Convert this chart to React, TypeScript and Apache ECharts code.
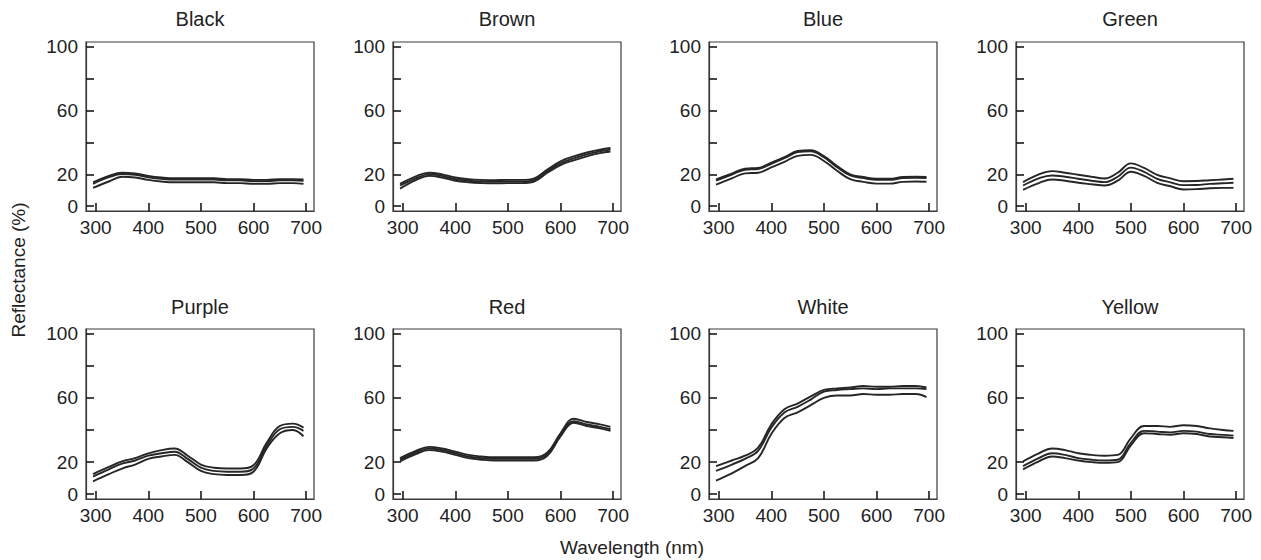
import React, { useEffect, useRef } from "react";
import * as echarts from "echarts";

// Wavelength (nm) sample points
const wavelengths = [295, 325, 350, 375, 400, 425, 450, 475, 500, 525, 550, 575, 600, 625, 650, 675, 695];

const xTicks = [300, 400, 500, 600, 700];
const yTicks = [0, 20, 40, 60, 80, 100];
const yLabels = [0, 20, 60, 100];

// Reflectance (%) — upper / mean / lower curves per colour
const blackUpper = [15, 19, 21, 20.5, 19, 18, 17.5, 17.5, 17.5, 17.5, 17, 17, 16.5, 16.5, 17, 17, 16.8];
const blackMid = [14, 18.2, 20.2, 19.7, 18.2, 17.2, 16.7, 16.7, 16.7, 16.7, 16.2, 16.2, 15.7, 15.7, 16.2, 16.2, 16];
const blackLower = [11.5, 15.5, 18.5, 18, 16.5, 15.5, 15, 15, 15, 15, 14.5, 14.5, 14, 14, 14.5, 14.5, 14];

const brownUpper = [14, 18.7, 21, 20, 18, 17, 16.5, 16.3, 16.5, 16.5, 17.5, 23, 28.2, 31.2, 33.7, 35.5, 36.5];
const brownMid = [13, 17.5, 20, 19, 17, 16, 15.5, 15.3, 15.5, 15.5, 16.5, 22, 27, 30, 32.5, 34.5, 35.5];
const brownLower = [11, 16.3, 19, 18, 16, 15, 14.5, 14.3, 14.5, 14.5, 15.5, 21, 25.8, 28.8, 31.3, 33.3, 34.3];

const blueUpper = [16.8, 20.5, 23.6, 24, 27.3, 30.8, 34.6, 35.2, 31.4, 25.2, 20, 18.3, 17.2, 17.2, 18.3, 18.5, 18.3];
const blueMid = [16.1, 19.8, 22.9, 23.3, 26.6, 30.1, 33.9, 34.5, 30.7, 24.5, 19.3, 17.6, 16.5, 16.5, 17.6, 17.8, 17.6];
const blueLower = [13.6, 17.5, 20.6, 21, 24.3, 27.8, 31.6, 32.2, 28.4, 22.2, 17, 15.3, 14.2, 14.2, 15.3, 15.5, 15.3];

const greenUpper = [15.1, 20, 22, 21, 19.7, 18.5, 17.4, 21, 26.9, 24, 19.7, 17.5, 15.7, 15.8, 16.3, 16.8, 17.2];
const greenMid = [13, 17.5, 19.3, 18.5, 17.2, 16, 15.1, 18.5, 24.2, 21.5, 17.2, 15, 13.2, 13.3, 14, 14.4, 14.7];
const greenLower = [10.3, 14.5, 16.8, 16, 14.7, 13.8, 13, 16, 21.6, 19, 14.7, 12.5, 10.5, 10.7, 11.3, 11.5, 11.5];

const purpleUpper = [12.5, 17, 20.5, 22.5, 25.5, 27.5, 28.5, 24, 18.5, 16.5, 16, 16, 18, 32, 42.5, 44, 41.5];
const purpleMid = [11, 15.5, 19, 21, 24, 25.5, 26.5, 22, 16.5, 14.5, 14, 14, 16, 30, 40.5, 42, 39.5];
const purpleLower = [8, 12.5, 16, 18.5, 22, 23.5, 24.5, 20, 14.5, 12.5, 12, 12, 14, 28.5, 38, 40, 36];

const redUpper = [22.5, 27, 29.5, 28.5, 26.5, 24.5, 23.5, 23, 23, 23, 23, 26, 38, 47, 45, 43.5, 42];
const redMid = [21.5, 26, 28.5, 27.5, 25.5, 23.5, 22.5, 22, 22, 22, 22, 25, 37, 45.5, 43.5, 42, 40.5];
const redLower = [20.5, 25, 27.5, 26.5, 24.5, 22.5, 21.5, 21, 21, 21, 21, 24, 36, 44.5, 42.5, 41, 39.5];

const whiteUpper = [17.5, 21, 24, 29, 43.5, 53, 56.5, 61, 65, 66, 66.5, 67.5, 67, 67, 67.5, 67.5, 66.5];
const whiteMid = [14.5, 18.5, 22, 27, 41.5, 51, 54.5, 59, 64, 65, 65.5, 66, 65.5, 66, 66, 66, 65.5];
const whiteLower = [8.5, 13, 17.5, 22.5, 37.5, 47.5, 51, 55.5, 60, 61.5, 61.5, 62.5, 62, 62, 62.5, 62.5, 60.5];

const yellowUpper = [20.5, 25.5, 28.5, 27.5, 25.5, 24.5, 24, 24.5, 35, 42.5, 42.5, 42, 43, 42.5, 41, 40, 39.5];
const yellowMid = [17.5, 22.5, 25.5, 24.5, 22.5, 21.5, 21, 21.5, 32, 39.5, 39, 38.5, 39.5, 39, 37.5, 37, 36.5];
const yellowLower = [15.5, 20.5, 23.5, 22.5, 21, 20, 19.5, 20, 30.5, 38, 37.5, 37, 38, 37.5, 36, 35.5, 35];

const panelTitles = ["Black", "Brown", "Blue", "Green", "Purple", "Red", "White", "Yellow"];
const panelLines = [
  [blackUpper, blackMid, blackLower],
  [brownUpper, brownMid, brownLower],
  [blueUpper, blueMid, blueLower],
  [greenUpper, greenMid, greenLower],
  [purpleUpper, purpleMid, purpleLower],
  [redUpper, redMid, redLower],
  [whiteUpper, whiteMid, whiteLower],
  [yellowUpper, yellowMid, yellowLower],
];

const FONT = "'Liberation Sans', Arial, Helvetica, sans-serif";
const TEXT = "#222";
const AXIS = "#3a3a3a";

export default function App() {
  const ref = useRef<HTMLDivElement>(null);

  useEffect(() => {
    if (!ref.current) return;
    const chart = echarts.init(ref.current, null, { renderer: "svg" });

    const colLefts = [86, 393, 709, 1016];
    const rowTops = [42, 329];
    const rowHeights = [169, 170];
    const W = 228;

    const grids: any[] = [];
    const xAxes: any[] = [];
    const yAxes: any[] = [];
    const series: any[] = [];
    const graphics: any[] = [];

    panelTitles.forEach((t, i) => {
      const r = Math.floor(i / 4);
      const c = i % 4;
      grids.push({
        left: colLefts[c],
        top: rowTops[r],
        width: W,
        height: rowHeights[r],
        show: true,
        borderColor: AXIS,
        borderWidth: 1.2,
      });
      xAxes.push({
        type: "value",
        gridIndex: i,
        min: 281.6,
        max: 715,
        axisLine: { show: true, onZero: false, lineStyle: { color: AXIS, width: 1.2 } },
        axisTick: { show: true, inside: true, length: 8, customValues: xTicks, lineStyle: { color: "#1a1a1a", width: 1.6 } },
        axisLabel: { show: true, customValues: xTicks, fontSize: 19, color: TEXT, margin: 7, fontFamily: FONT },
        splitLine: { show: false },
      });
      yAxes.push({
        type: "value",
        gridIndex: i,
        min: -3,
        max: 103,
        axisLine: { show: true, onZero: false, lineStyle: { color: AXIS, width: 1.2 } },
        axisTick: { show: true, inside: true, length: 8, customValues: yTicks, lineStyle: { color: "#1a1a1a", width: 1.6 } },
        axisLabel: { show: true, customValues: yLabels, fontSize: 19, color: TEXT, margin: 8, fontFamily: FONT },
        splitLine: { show: false },
      });
      panelLines[i].forEach((arr, k) => {
        series.push({
          type: "line",
          name: `${t}-${k}`,
          xAxisIndex: i,
          yAxisIndex: i,
          data: wavelengths.map((w, j) => [w, arr[j]]),
          showSymbol: false,
          smooth: 0.4,
          silent: true,
          lineStyle: { color: "#262626", width: 1.9 },
        });
      });
      graphics.push({
        type: "text",
        x: colLefts[c] + W / 2,
        y: r === 0 ? 19 : 307,
        style: {
          text: t,
          fontSize: 20,
          fontFamily: FONT,
          fill: TEXT,
          align: "center",
          verticalAlign: "middle",
        },
      });
    });

    graphics.push({
      type: "text",
      x: 18,
      y: 270,
      rotation: Math.PI / 2,
      style: {
        text: "Reflectance (%)",
        fontSize: 19,
        fontFamily: FONT,
        fill: TEXT,
        align: "center",
        verticalAlign: "middle",
      },
    });
    graphics.push({
      type: "text",
      x: 632,
      y: 547,
      style: {
        text: "Wavelength (nm)",
        fontSize: 19,
        fontFamily: FONT,
        fill: TEXT,
        align: "center",
        verticalAlign: "middle",
      },
    });

    chart.setOption({
      animation: false,
      backgroundColor: "#ffffff",
      grid: grids,
      xAxis: xAxes,
      yAxis: yAxes,
      series,
      graphic: graphics,
    });

    return () => chart.dispose();
  }, []);

  return (
    <div
      ref={ref}
      style={{ position: "fixed", left: 0, top: 0, width: 1261, height: 560, background: "#fff" }}
    />
  );
}
